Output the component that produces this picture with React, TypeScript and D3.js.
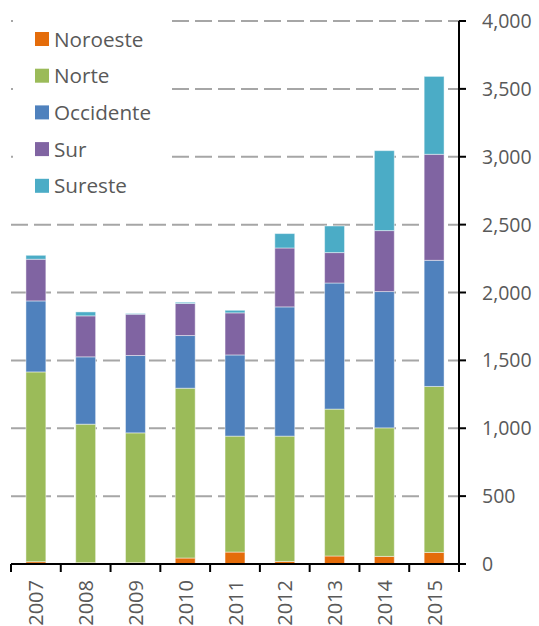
import React from "react";
import * as d3 from "d3";

const years = ["2007", "2008", "2009", "2010", "2011", "2012", "2013", "2014", "2015"];
const noroeste = [17, 10, 10, 44, 88, 19, 59, 56, 85];
const norte = [1398, 1020, 956, 1251, 854, 923, 1082, 947, 1223];
const occidente = [523, 496, 570, 388, 598, 952, 929, 1004, 929];
const sur = [307, 302, 304, 236, 310, 434, 224, 449, 781];
const sureste = [29, 29, 5, 9, 19, 106, 196, 589, 574];
const seriesNames = ["Noroeste", "Norte", "Occidente", "Sur", "Sureste"];
const seriesColors = ["#E46C0A", "#9BBB59", "#4F81BD", "#8064A2", "#4BACC6"];
const yTicks = [0, 500, 1000, 1500, 2000, 2500, 3000, 3500, 4000];

const W = 539;
const H = 626;
const left = 11;
const right = 459;
const top = 21;
const bottom = 564;
const FONT = "'Open Sans', sans-serif";
const TEXT = "#595959";

export default function App() {
  const rows = years.map((y, i) => ({
    year: y,
    Noroeste: noroeste[i],
    Norte: norte[i],
    Occidente: occidente[i],
    Sur: sur[i],
    Sureste: sureste[i],
  }));
  const stack = d3.stack<any>().keys(seriesNames)(rows);
  const x = d3.scaleBand<string>().domain(years).range([left, right]).paddingInner(0.6).paddingOuter(0.3);
  const xb = d3.scaleBand<string>().domain(years).range([left, right]).padding(0);
  const y = d3.scaleLinear().domain([0, 4000]).range([bottom, top]);
  const fmt = d3.format(",");

  return (
    <svg width={W} height={H} style={{ position: "absolute", left: 0, top: 0, display: "block" }}>
      <rect x={0} y={0} width={W} height={H} fill="#fff" />
      {yTicks.filter((t) => t > 0).map((t) => (
        <line key={t} x1={left} x2={right} y1={y(t)} y2={y(t)} stroke="#A6A6A6" strokeWidth={2} strokeDasharray="17,6" />
      ))}
      {stack.map((s, si) => (
        <g key={s.key}>
          {s.map((d, i) => (
            <rect
              key={i}
              x={x(years[i])}
              width={x.bandwidth()}
              y={y(d[1])}
              height={Math.max(0, y(d[0]) - y(d[1]))}
              fill={seriesColors[si]}
              stroke="#ffffff"
              strokeOpacity={0.45}
              strokeWidth={1}
            />
          ))}
        </g>
      ))}
      {/* bottom axis */}
      <line x1={left} x2={right + 1} y1={bottom} y2={bottom} stroke="#000" strokeWidth={2} />
      {years.map((yr) => (
        <line key={"t" + yr} x1={xb(yr)} x2={xb(yr)} y1={bottom} y2={bottom + 8} stroke="#000" strokeWidth={2} />
      ))}
      <line x1={right} x2={right} y1={bottom} y2={bottom + 8} stroke="#000" strokeWidth={2} />
      {years.map((yr) => {
        const cx = (x(yr) as number) + x.bandwidth() / 2;
        const ty = 580;
        return (
          <text
            key={"l" + yr}
            transform={`translate(${cx + 7.5},${ty}) rotate(-90)`}
            textAnchor="end"
            fontFamily={FONT}
            fontSize={20}
            fill={TEXT}
          >
            {yr}
          </text>
        );
      })}
      {/* right axis */}
      <line x1={right} x2={right} y1={top} y2={bottom} stroke="#000" strokeWidth={2} />
      {yTicks.map((t) => (
        <g key={"y" + t}>
          <line x1={right} x2={right + 7} y1={y(t)} y2={y(t)} stroke="#000" strokeWidth={2} />
          <text x={482} y={y(t) + 7} fontFamily={FONT} fontSize={19.5} fill={TEXT}>
            {fmt(t)}
          </text>
        </g>
      ))}
      {/* legend */}
      <rect x={13} y={12} width={157} height={203} fill="#fff" />
      {seriesNames.map((n, i) => {
        const cy = 39 + i * 36.7;
        return (
          <g key={"lg" + n}>
            <rect x={35} y={cy - 7} width={14} height={14} fill={seriesColors[i]} />
            <text x={54} y={cy + 7.5} fontFamily={FONT} fontSize={20.7} fill={TEXT}>
              {n}
            </text>
          </g>
        );
      })}
    </svg>
  );
}
